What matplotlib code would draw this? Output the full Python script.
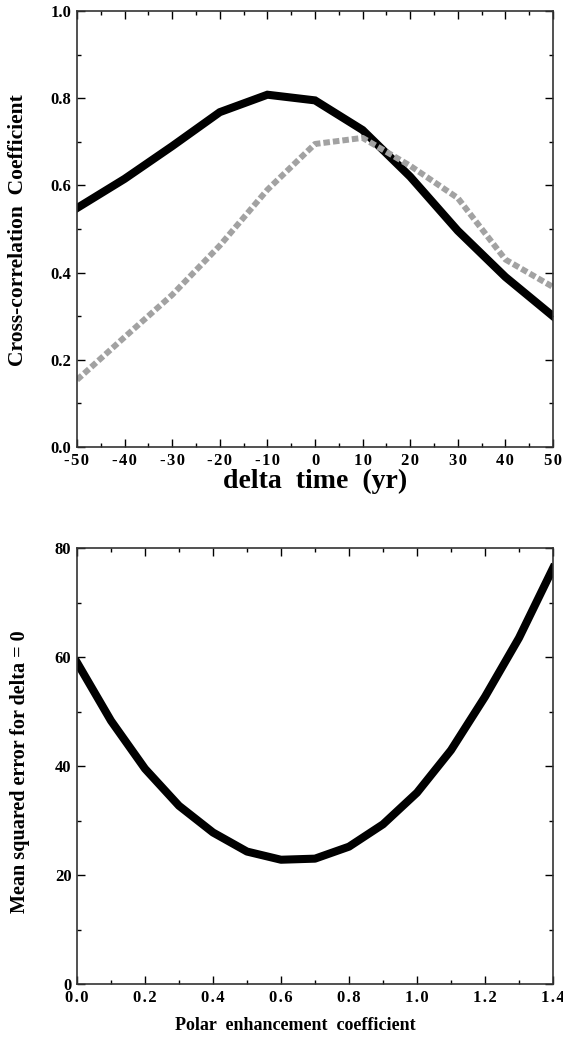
import matplotlib
matplotlib.use('Agg')
import matplotlib.pyplot as plt
from matplotlib.ticker import MultipleLocator

plt.rcParams['font.family'] = ['Liberation Serif', 'DejaVu Serif']
plt.rcParams['font.weight'] = 'bold'

# Data: top panel
delta_time = [-50, -40, -30, -20, -10, 0, 10, 20, 30, 40, 50]
corr_solid = [0.548, 0.615, 0.690, 0.768, 0.808, 0.795, 0.727, 0.620, 0.496, 0.390, 0.300]
corr_gray = [0.154, 0.252, 0.349, 0.462, 0.590, 0.695, 0.709, 0.645, 0.571, 0.430, 0.367]
time_labels = ['-50', '-40', '-30', '-20', '-10', '0', '10', '20', '30', '40', '50']
corr_ticks = [0.0, 0.2, 0.4, 0.6, 0.8, 1.0]

# Data: bottom panel
polar_coef = [0.0, 0.1, 0.2, 0.3, 0.4, 0.5, 0.6, 0.7, 0.8, 0.9, 1.0, 1.1, 1.2, 1.3, 1.4]
mse = [59.0, 48.3, 39.5, 32.7, 27.8, 24.3, 22.8, 23.0, 25.2, 29.3, 35.1, 42.9, 52.7, 63.5, 76.3]
coef_ticks = [0.0, 0.2, 0.4, 0.6, 0.8, 1.0, 1.2, 1.4]
mse_ticks = [0, 20, 40, 60, 80]

W, H = 563, 1038
fig = plt.figure(figsize=(W / 100, H / 100), dpi=100)


def px_axes(l, t, r, b):
    return fig.add_axes([l / W, 1 - b / H, (r - l) / W, (b - t) / H])


def spaced(s):
    # slightly wider letter spacing like the scanned tick labels
    return '\u200a'.join(s)


ax1 = px_axes(77, 11, 553, 447)
ax2 = px_axes(77, 548, 553, 984)

ax1.plot(delta_time, corr_solid, color='black', lw=5.8, solid_joinstyle='miter')
ax1.plot(delta_time, corr_gray, color='#a2a2a2', lw=4.3, linestyle=(0, (1.1, 0.5)),
         dash_capstyle='butt')
ax1.set_xlim(-50, 50)
ax1.set_ylim(0, 1.0)
ax1.xaxis.set_minor_locator(MultipleLocator(5))
ax1.yaxis.set_minor_locator(MultipleLocator(0.1))
ax1.set_xticks(delta_time)
ax1.set_xticklabels([spaced(t) for t in time_labels])
ax1.set_yticks(corr_ticks)
ax1.set_yticklabels(['%.1f' % v for v in corr_ticks])
ax1.set_xlabel('delta  time  (yr)', fontsize=20, fontweight='bold', labelpad=0)
fig.text(18 / W, 1 - 230 / H, 'Cross-correlation  Coefficient', fontsize=15.5,
         fontweight='bold', ha='center', va='center', rotation=90)

ax2.plot(polar_coef, mse, color='black', lw=5.8, solid_joinstyle='round')
ax2.set_xlim(0, 1.4)
ax2.set_ylim(0, 80)
ax2.xaxis.set_minor_locator(MultipleLocator(0.1))
ax2.yaxis.set_minor_locator(MultipleLocator(10))
ax2.set_xticks(coef_ticks)
ax2.set_xticklabels([spaced('%.1f' % v) for v in coef_ticks])
ax2.set_yticks(mse_ticks)
ax2.set_yticklabels([str(v) for v in mse_ticks])
fig.text(295 / W, 1 - 1025 / H, 'Polar  enhancement  coefficient', fontsize=13,
         fontweight='bold', ha='center', va='center')
fig.text(20 / W, 1 - 772 / H, 'Mean squared error for delta = 0', fontsize=14.5,
         fontweight='bold', ha='center', va='center', rotation=90)

for ax in (ax1, ax2):
    for s in ax.spines.values():
        s.set_linewidth(1.2)
        s.set_color('#333333')
    ax.tick_params(which='both', direction='in', top=True, right=True, width=1.0,
                   labelsize=12, pad=4)
    ax.tick_params(which='major', length=6)
    ax.tick_params(which='minor', length=3)
    for lab in ax.get_xticklabels() + ax.get_yticklabels():
        lab.set_fontweight('bold')

fig.savefig('out.png', dpi=100)
